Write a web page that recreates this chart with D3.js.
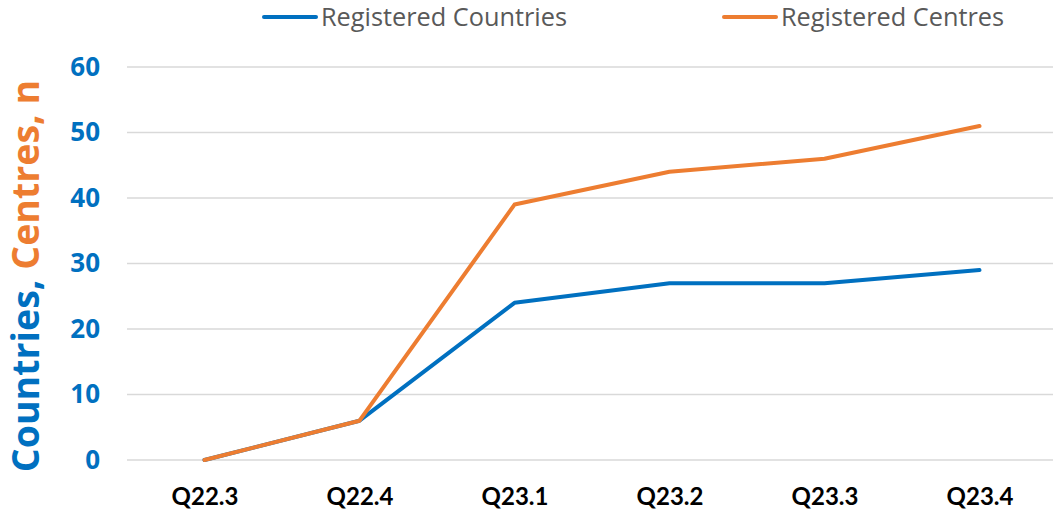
<!DOCTYPE html>
<html>
<head>
<meta charset="utf-8">
<script src="https://cdn.jsdelivr.net/npm/d3@7"></script>
<style>
  body { margin: 0; background: #fff; }
  svg { display: block; font-family: "Open Sans", Lato, sans-serif; }
</style>
</head>
<body>
<div id="chart"></div>
<script>
const quarters = ['Q22.3', 'Q22.4', 'Q23.1', 'Q23.2', 'Q23.3', 'Q23.4'];
const countries = [0, 6, 24, 27, 27, 29];
const centres = [0, 6, 39, 44, 46, 51];
const yTicks = [0, 10, 20, 30, 40, 50, 60];

const blue = '#0070C0', orange = '#ED7D31';
const width = 1053, height = 517;
const margin = { top: 67, right: -4, bottom: 57, left: 127 };

const svg = d3.select('#chart').append('svg')
  .attr('width', width).attr('height', height);

const x = d3.scalePoint().domain(quarters)
  .range([margin.left, width - margin.right]).padding(0.5);
const y = d3.scaleLinear().domain([0, 60])
  .range([height - margin.bottom, margin.top]);

// gridlines
svg.append('g').selectAll('line').data(yTicks).enter().append('line')
  .attr('x1', margin.left).attr('x2', width)
  .attr('y1', d => y(d)).attr('y2', d => y(d))
  .attr('stroke', '#d9d9d9').attr('stroke-width', 1.5);

// y axis labels
const yAxis = d3.axisLeft(y).tickValues(yTicks).tickSize(0).tickPadding(0);
svg.append('g')
  .attr('transform', 'translate(100,0)')
  .call(yAxis)
  .call(g => g.select('.domain').remove())
  .selectAll('text')
  .attr('fill', blue).attr('font-size', 26).attr('font-weight', 700)
  .attr('font-family', '"Open Sans", sans-serif');

// x axis labels
const xAxis = d3.axisBottom(x).tickSize(0).tickPadding(0);
svg.append('g')
  .attr('transform', 'translate(0,' + 488 + ')')
  .call(xAxis)
  .call(g => g.select('.domain').remove())
  .selectAll('text')
  .attr('fill', '#000').attr('font-size', 24).attr('font-weight', 700)
  .attr('font-family', 'Lato, sans-serif');

// lines
const line = d3.line().x((d, i) => x(quarters[i])).y(d => y(d));
svg.append('path').datum(countries)
  .attr('d', line).attr('fill', 'none')
  .attr('stroke', blue).attr('stroke-width', 4)
  .attr('stroke-linecap', 'round').attr('stroke-linejoin', 'round');
svg.append('path').datum(centres)
  .attr('d', line).attr('fill', 'none')
  .attr('stroke', orange).attr('stroke-width', 4)
  .attr('stroke-linecap', 'round').attr('stroke-linejoin', 'round');

// y axis title
const title = svg.append('text')
  .attr('transform', 'translate(39,' + 276 + ') rotate(-90)')
  .attr('text-anchor', 'middle')
  .attr('font-size', 37.5).attr('font-weight', 700);
title.append('tspan').attr('fill', blue).text('Countries, ');
title.append('tspan').attr('fill', orange).text('Centres, n');

// legend
const legend = [
  { name: 'Registered Countries', color: blue, x: 264 },
  { name: 'Registered Centres', color: orange, x: 724 }
];
const lg = svg.append('g').selectAll('g').data(legend).enter().append('g')
  .attr('transform', d => 'translate(' + d.x + ',17)');
lg.append('line').attr('x1', 0).attr('x2', 52)
  .attr('stroke', d => d.color).attr('stroke-width', 4)
  .attr('stroke-linecap', 'round');
lg.append('text').attr('x', 57).attr('dy', '0.35em')
  .attr('fill', '#595959').attr('font-size', 25.3)
  .text(d => d.name);
</script>
</body>
</html>
